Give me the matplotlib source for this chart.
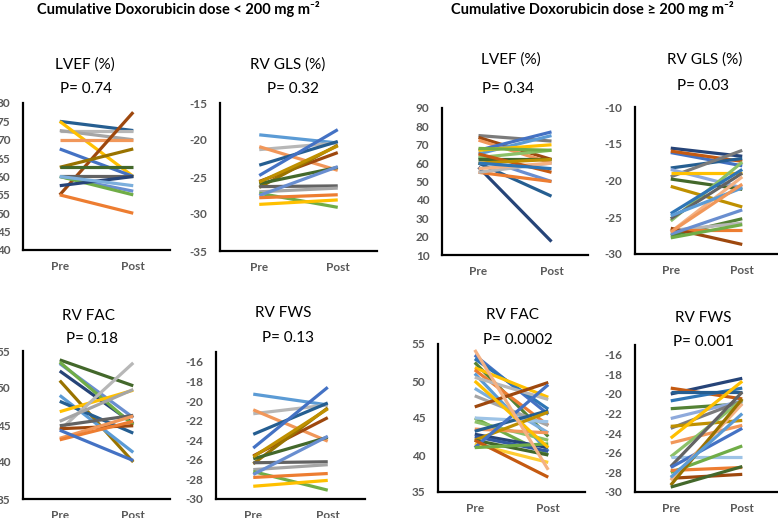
import matplotlib
matplotlib.use('Agg')
import matplotlib.pyplot as plt

plt.rcParams['font.family'] = ['Lato', 'DejaVu Sans']
plt.rcParams['axes.unicode_minus'] = False

W, H = 778, 518

categories = ['Pre', 'Post']

# data: pre / post values per subject
lvef_lo_pre = [75, 72.5, 72.5, 75, 70, 55, 67.5, 62.5, 62.5, 60, 60, 60, 57.5, 55, 60]
lvef_lo_post = [72.5, 72.5, 70, 60, 70, 77.5, 60, 67.5, 62.5, 60, 56, 55, 60, 50, 57.5]

gls_lo_pre = [-19.3, -21.3, -20.9, -23.4, -24.8, -25.6, -26.4, -25.9, -26.3, -27.0, -27.2, -27.5, -27.8, -28.7, -25.7]
gls_lo_post = [-20.4, -20.4, -24.1, -20.2, -18.6, -21.7, -20.7, -23.7, -26.2, -26.5, -29.1, -23.6, -27.4, -28.1, -20.8]

fac_lo_pre = [53.8, 53.3, 52.3, 53.5, 51.0, 49.0, 48.2, 46.8, 44.3, 45.5, 44.9, 44.5, 43.2, 43.0, 44.3]
fac_lo_post = [50.3, 46.0, 45.2, 45.0, 40.0, 41.3, 43.9, 49.7, 53.4, 49.8, 46.3, 44.9, 46.2, 45.5, 40.2]

fws_lo_pre = [-19.3, -21.3, -20.9, -23.4, -24.8, -25.6, -26.4, -25.9, -26.3, -27.0, -27.2, -27.5, -27.8, -28.7, -25.7]
fws_lo_post = [-20.4, -20.4, -24.1, -20.2, -18.6, -21.7, -20.7, -23.7, -26.2, -26.5, -29.1, -23.6, -27.4, -28.1, -20.8]

lvef_hi_pre = [57.8, 75, 74, 72.5, 67, 60, 63, 55, 65, 67, 63, 62, 55, 57, 65, 60, 60, 68]
lvef_hi_post = [17.3, 72, 62, 60, 77, 42, 50, 50, 75, 70, 67, 62, 60, 60, 55, 62, 57, 67]

gls_hi_pre = [-15.6, -16.2, -16.0, -18.3, -19.5, -18.5, -19.0, -19.8, -20.8, -25.5, -24.5, -25.2, -27.0, -24.8, -27.5, -26.8, -26.8, -26.5, -27.8, -27.3, -27.0]
gls_hi_post = [-16.7, -18.0, -17.4, -17.0, -15.9, -21.0, -19.0, -21.2, -23.6, -17.5, -18.5, -19.0, -19.5, -21.0, -25.2, -25.8, -26.8, -28.7, -26.0, -24.0, -20.5]

fac_hi_pre = [53.5, 53.0, 52.5, 51.8, 51.5, 51.0, 50.5, 49.0, 48.0, 46.5, 45.0, 45.0, 44.5, 43.5, 43.2, 42.8, 42.5, 42.0, 42.0, 41.5, 41.0, 42.0, 41.0, 50.0, 54.2]
fac_hi_post = [45.5, 46.2, 42.5, 47.8, 44.0, 40.5, 47.5, 43.0, 44.0, 49.8, 40.0, 44.5, 42.0, 43.0, 46.0, 41.0, 40.5, 45.8, 40.0, 39.0, 49.5, 37.0, 41.5, 41.0, 38.0]

fws_hi_pre = [-20.0, -19.4, -20.7, -19.8, -21.5, -22.5, -23.5, -23.3, -24.5, -25.0, -26.4, -26.4, -27.4, -27.5, -28.0, -27.8, -28.6, -28.8, -29.3, -29.5, -28.5]
fws_hi_post = [-18.4, -20.5, -19.4, -19.8, -21.0, -20.7, -20.7, -22.7, -18.7, -23.2, -20.6, -26.4, -19.8, -23.5, -25.3, -27.5, -28.2, -21.0, -20.5, -27.4, -22.0]

titles = ['LVEF (%)', 'RV GLS (%)', 'RV FAC', 'RV FWS']
p_lo = ['P= 0.74', 'P= 0.32', 'P= 0.18', 'P= 0.13']
p_hi = ['P= 0.34', 'P= 0.03', 'P= 0.0002', 'P= 0.001']

# excel office style colours, one per subject line
col_lvef_lo = ['#255E91', '#B7B7B7', '#A5A5A5', '#FFC000', '#F1975A', '#9E480E', '#4472C4',
               '#997300', '#43682B', '#636363', '#698ED0', '#70AD47', '#264478', '#ED7D31', '#7CAFDD']
col_gls_lo = ['#5B9BD5', '#B7B7B7', '#F1975A', '#255E91', '#4472C4', '#9E480E', '#997300',
              '#43682B', '#636363', '#A5A5A5', '#70AD47', '#698ED0', '#ED7D31', '#FFC000', '#BF9000']
col_fac_lo = ['#43682B', '#698ED0', '#264478', '#70AD47', '#997300', '#5B9BD5', '#255E91',
              '#FFC000', '#B7B7B7', '#A5A5A5', '#636363', '#9E480E', '#F1975A', '#ED7D31', '#4472C4']
col_lvef_hi = ['#264478', '#7B7B7B', '#9E480E', '#F1975A', '#4472C4', '#255E91', '#698ED0',
               '#ED7D31', '#5B9BD5', '#FFC000', '#8CC168', '#43682B', '#B7B7B7', '#F4B183',
               '#C55A11', '#BF9000', '#2E75B6', '#70AD47']
col_gls_hi = ['#264478', '#4472C4', '#C55A11', '#255E91', '#7B7B7B', '#8FAADC', '#FFC000',
              '#43682B', '#BF9000', '#8CC168', '#2E75B6', '#636363', '#F4B183', '#5B9BD5',
              '#548235', '#B7B7B7', '#ED7D31', '#9E480E', '#70AD47', '#698ED0', '#F1975A']
col_fac_hi = ['#4472C4', '#2E75B6', '#548235', '#FFC000', '#ED7D31', '#5B9BD5', '#B7B7B7',
              '#7CAFDD', '#A5A5A5', '#9E480E', '#70AD47', '#9DC3E6', '#8CC168', '#F1975A',
              '#255E91', '#264478', '#335AA1', '#BF9000', '#43682B', '#FFCD33', '#4472C4',
              '#C55A11', '#70AD47', '#FFC000', '#F4B183']
col_fws_hi = ['#264478', '#C55A11', '#2E75B6', '#255E91', '#548235', '#8FAADC', '#7B7B7B',
              '#BF9000', '#FFC000', '#F1975A', '#8CC168', '#9DC3E6', '#636363', '#4472C4',
              '#70AD47', '#ED7D31', '#9E480E', '#F4B183', '#997300', '#43682B', '#5B9BD5']


def panel(fig, box, pre, post, colors, ylim, yticks, title, ptext, tpos, ppos):
    x0, x1, ytop, ybot = box
    ax = fig.add_axes([x0 / W, 1 - ybot / H, (x1 - x0) / W, (ybot - ytop) / H])
    for a, b, c in zip(pre, post, colors):
        ax.plot([0, 1], [a, b], color=c, lw=2.3, solid_capstyle='butt')
    ax.set_xlim(-0.5, 1.5)
    ax.set_ylim(*ylim)
    ax.set_yticks(yticks)
    ax.set_xticks([0, 1])
    ax.set_xticklabels(categories)
    for s in ['top', 'right']:
        ax.spines[s].set_visible(False)
    for s in ['left', 'bottom']:
        ax.spines[s].set_linewidth(1.6)
        ax.spines[s].set_color('black')
    ax.tick_params(axis='y', length=0, pad=9, labelsize=8.5, labelcolor='#595959')
    ax.tick_params(axis='x', length=0, pad=8, labelsize=8.5, labelcolor='#595959')
    for lab in ax.get_xticklabels() + ax.get_yticklabels():
        lab.set_fontweight('bold')
    ax.patch.set_alpha(0)
    fig.text(tpos[0] / W, 1 - tpos[1] / H, title, ha='center', va='center', fontsize=11)
    fig.text(ppos[0] / W, 1 - ppos[1] / H, ptext, ha='center', va='center', fontsize=11)
    return ax


fig = plt.figure(figsize=(W / 100, H / 100), dpi=100)

panel(fig, (23, 170, 103, 250), lvef_lo_pre, lvef_lo_post, col_lvef_lo,
      (40, 80), range(40, 81, 5), titles[0], p_lo[0], (85, 65), (86, 89))
panel(fig, (220, 377, 103, 251), gls_lo_pre, gls_lo_post, col_gls_lo,
      (-35, -15), range(-35, -14, 5), titles[1], p_lo[1], (288, 65), (293, 89))
panel(fig, (23, 170, 351, 499), fac_lo_pre, fac_lo_post, col_fac_lo,
      (35, 55), range(35, 56, 5), titles[2], p_lo[2], (88, 316), (92, 339))
panel(fig, (216, 365, 352, 499), fws_lo_pre, fws_lo_post, col_gls_lo,
      (-30, -15), range(-30, -15, 2), titles[3], p_lo[3], (283, 313), (288, 338))

panel(fig, (442, 588, 108, 255), lvef_hi_pre, lvef_hi_post, col_lvef_hi,
      (10, 90), range(10, 91, 10), titles[0], p_hi[0], (511, 60), (508, 89))
panel(fig, (635, 778, 107, 254), gls_hi_pre, gls_hi_post, col_gls_hi,
      (-30, -10), range(-30, -9, 5), titles[1], p_hi[1], (705, 60), (703, 86))
panel(fig, (438, 585, 344, 492), fac_hi_pre, fac_hi_post, col_fac_hi,
      (35, 55), range(35, 56, 5), titles[2], p_hi[2], (513, 315), (518, 340))
panel(fig, (635, 778, 345, 492), fws_hi_pre, fws_hi_post, col_fws_hi,
      (-30, -15), range(-30, -15, 2), titles[3], p_hi[3], (703, 318), (703, 342))

fig.text(178 / W, 1 - 9 / H, 'Cumulative Doxorubicin dose < 200 mg m\u207b\u00b2',
         ha='center', va='center', fontsize=10.5, fontweight='bold')
fig.text(592 / W, 1 - 9 / H, 'Cumulative Doxorubicin dose \u2265 200 mg m\u207b\u00b2',
         ha='center', va='center', fontsize=10.5, fontweight='bold')

fig.savefig('out.png', dpi=100)
